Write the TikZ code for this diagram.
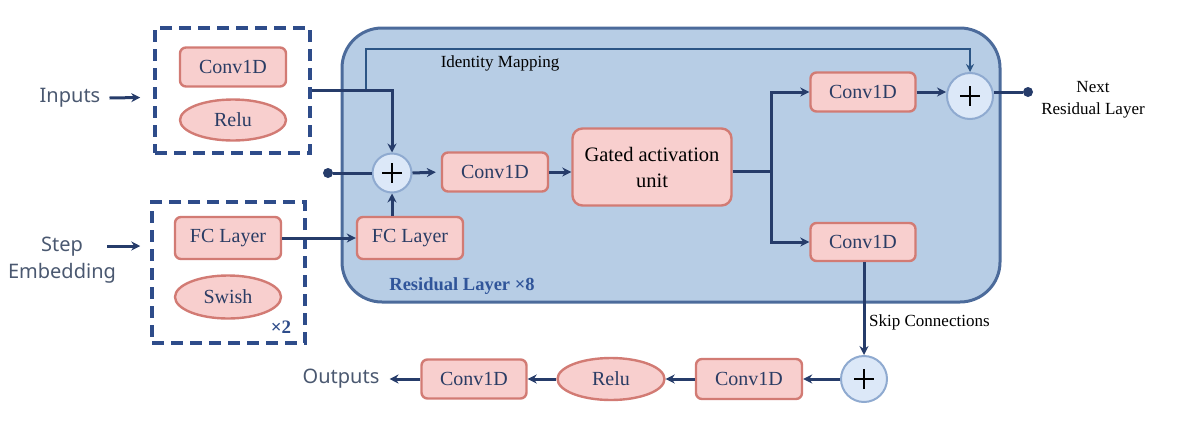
\documentclass[tikz,border=0pt]{standalone}
\usepackage{fontspec}
\setmainfont{Liberation Serif}
\newfontfamily\sansf{Noto Sans}
\usetikzlibrary{arrows.meta,shapes.geometric,calc}
\definecolor{navy}{HTML}{263C6A}
\definecolor{dashc}{HTML}{2E4C8A}
\definecolor{resfill}{HTML}{B7CDE5}
\definecolor{resline}{HTML}{4C6B9B}
\definecolor{reslbl}{HTML}{30559A}
\definecolor{pinkf}{HTML}{F8CFCE}
\definecolor{pinkl}{HTML}{D27B74}
\definecolor{circf}{HTML}{DCE8F8}
\definecolor{circl}{HTML}{8FAAD0}
\definecolor{boxtxt}{HTML}{2A3C64}
\definecolor{sanstxt}{HTML}{4A5870}
\definecolor{idline}{HTML}{2C5585}
\tikzset{
  pbox/.style={draw=pinkl, fill=pinkf, line width=2.4pt, rounded corners=6pt,
    minimum width=106pt, minimum height=39pt, inner sep=0pt,
    font=\fontsize{20}{24}\selectfont, text=boxtxt},
  pell/.style={ellipse, draw=pinkl, fill=pinkf, line width=2.4pt,
    minimum width=106pt, minimum height=41pt, inner sep=0pt,
    font=\fontsize{20}{24}\selectfont, text=boxtxt},
  plusc/.style={circle, draw=circl, fill=circf, line width=2pt, inner sep=0pt,
    path picture={\draw[black, line width=2.4pt]
      ($(path picture bounding box.center)+(-10,0)$) -- ($(path picture bounding box.center)+(10,0)$)
      ($(path picture bounding box.center)+(0,-10)$) -- ($(path picture bounding box.center)+(0,10)$);}},
  arr/.style={draw=navy, line width=3pt, -{Stealth[length=9pt,width=9pt]}},
  ln/.style={draw=navy, line width=3pt},
  lbl/.style={font=\fontsize{17}{20}\selectfont, text=black, inner sep=0pt},
  sans/.style={font=\sansf\fontsize{20}{27}\selectfont, text=sanstxt, inner sep=0pt, align=center},
  dbox/.style={draw=dashc, line width=3.5pt, dash pattern=on 12pt off 7pt},
  dotc/.style={circle, fill=navy, inner sep=0pt, minimum size=10pt}
}
\begin{document}
\begin{tikzpicture}[x=1pt,y=-1pt]
\useasboundingbox (0,0) rectangle (1196,421);
% residual block
\draw[draw=resline, fill=resfill, line width=3pt, rounded corners=40pt] (342,28) rectangle (1000,302);
\node[font=\bfseries\fontsize{18.5}{20}\selectfont, text=reslbl, inner sep=0pt] (reslbl) at (462,286) {Residual Layer ×8};
\node[lbl] (idlbl) at (500,63) {Identity Mapping};

% input dashed box
\node[dbox, minimum width=155pt, minimum height=125pt, inner sep=0pt] (inbox) at (232.5,90.5) {};
\node[pbox] (convin) at (233,67) {Conv1D};
\node[pell] (reluin) at (233,120) {Relu};
\node[sans] (inputs) at (70,98) {Inputs};

% step dashed box
\node[dbox, minimum width=153pt, minimum height=141pt, inner sep=0pt] (stepbox) at (228.5,272.5) {};
\node[pbox, minimum height=42pt] (fcout) at (228,238) {FC Layer};
\node[pell, minimum height=43pt] (swish) at (228,297) {Swish};
\node[font=\bfseries\fontsize{19}{20}\selectfont, text=dashc, inner sep=0pt] (x2) at (281,327) {×2};
\node[sans] (stepemb) at (62,260) {Step\\Embedding};

\draw[arr] (inputs.east) ++(9,0) coordinate (inA) -- ($(inbox.west)+(-13,7)$) coordinate (inB);
\draw[arr] ($(stepemb.east)+(-9,-14)$) coordinate (stA) -- ($(stepbox.west)+(-10,-26.5)$) coordinate (stB);

% residual internals
\node[plusc, minimum size=39pt] (plus1) at (392,173) {};
\node[dotc] (dot1) at (328,173) {};
\node[pbox] (convmid) at (495,172) {Conv1D};
\node[pbox, minimum width=159pt, minimum height=77pt, rounded corners=10pt, align=center, text=black, font=\fontsize{20.5}{26}\selectfont] (gated) at (652,167) {Gated activation\\unit};
\node[pbox, minimum height=42pt] (fcin) at (410,238) {FC Layer};
\node[pbox, minimum width=105pt] (convtop) at (863,92) {Conv1D};
\node[pbox, minimum width=105pt, minimum height=38pt] (convbot) at (863,242) {Conv1D};
\node[plusc, minimum size=46pt] (plus2) at (970,96) {};
\node[dotc] (dot2) at (1028,92) {};
\node[lbl, align=center, font=\fontsize{17}{22}\selectfont] (nextlbl) at (1093,100) {Next\\Residual Layer};
\node[lbl, anchor=west] (skiplbl) at (869,322) {Skip Connections};

% output row
\node[plusc, minimum size=46pt] (plus3) at (864,379) {};
\node[pbox, minimum height=40pt] (convo2) at (749,379) {Conv1D};
\node[pell, minimum width=107pt, minimum height=42pt] (reluo) at (611,379) {Relu};
\node[pbox, minimum width=105pt] (convo1) at (474,379) {Conv1D};
\node[sans] (outputs) at (341,379) {Outputs};

% connectors
\coordinate (idsplit) at (366,90.5);
\draw[draw=idline, line width=1.6pt, -{Stealth[length=8pt,width=8pt]}] (idsplit) |- (970,49) -- (plus2.north);
\draw[arr] (inbox.east) -| (plus1.north);
\draw[ln] (dot1) -- (plus1.west);
\draw[arr, shorten >=5pt] (plus1.east) -- (convmid.west);
\draw[arr] (convmid.east) -- (gated.west |- convmid.east);
\draw[arr] (fcout.east) -- (fcin.west);
\draw[arr] (fcin.north -| plus1.south) -- (plus1.south);
\coordinate (split) at (771,171);
\draw[ln] (gated.east |- split) -- (split);
\draw[arr] (split) |- (convtop.west);
\draw[arr] (split) |- (convbot.west);
\draw[arr] (convtop.east) -- (convtop.east -| plus2.west);
\draw[ln] (plus2.east |- dot2) -- (dot2);
\draw[arr] (convbot.south -| plus3.north) -- (plus3.north);
\draw[arr] (plus3.west) -- (convo2.east);
\draw[arr] (convo2.west) -- (reluo.east);
\draw[arr] (reluo.west) -- (convo1.east);
\draw[arr, shorten >=10pt] (convo1.west) -- (outputs.east);
\end{tikzpicture}
\end{document}
